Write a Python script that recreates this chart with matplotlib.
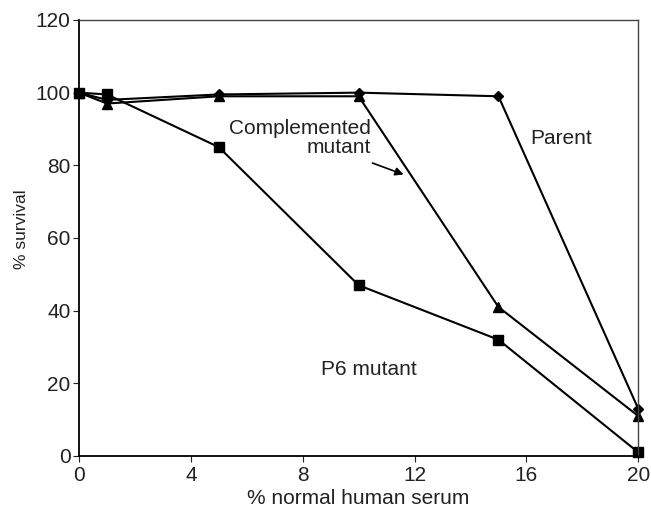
import matplotlib
matplotlib.use('Agg')
import matplotlib.pyplot as plt

plt.rcParams['font.family'] = ['Liberation Sans', 'DejaVu Sans']

# serum concentration (%)
serum = [0, 1, 5, 10, 15, 20]

# % survival for each strain
parent = [100, 98, 99.5, 100, 99, 13]
complemented = [100, 97, 99, 99, 41, 11]
p6_mutant = [100, 99.5, 85, 47, 32, 1]

fig = plt.figure(figsize=(6.51, 5.16), dpi=100)
ax = fig.add_axes([0.1214, 0.1163, 0.859, 0.845])

ax.plot(serum, parent, color='black', marker='D', markersize=5, linewidth=1.5, clip_on=False)
ax.plot(serum, complemented, color='black', marker='^', markersize=7, linewidth=1.5, clip_on=False)
ax.plot(serum, p6_mutant, color='black', marker='s', markersize=7, linewidth=1.5, clip_on=False)

ax.set_xlim(0, 20)
ax.set_ylim(0, 120)
ax.set_xticks([0, 4, 8, 12, 16, 20])
ax.set_yticks([0, 20, 40, 60, 80, 100, 120])
for s in ax.spines.values():
    s.set_color('#444444')
    s.set_linewidth(1.0)
ax.spines['left'].set_color('black')
ax.spines['bottom'].set_color('black')
ax.spines['left'].set_linewidth(1.3)
ax.spines['bottom'].set_linewidth(1.3)
ax.tick_params(labelsize=15, length=4, colors='#222222', pad=2)
ax.tick_params(axis='x', pad=3)

ax.set_xlabel("% normal human serum", fontsize=15, color='#222222', labelpad=3)
ax.set_ylabel("% survival", fontsize=12.5, color='#222222')
ax.yaxis.set_label_coords(-0.09, 0.52)

ax.text(10.45, 87.5, "Complemented\nmutant", fontsize=15, ha='right', va='center',
        multialignment='right', color='#222222', linespacing=1.0)
ax.annotate("", xy=(11.7, 77.2), xytext=(10.4, 80.9),
            arrowprops=dict(arrowstyle='-|>', color='black', lw=1.2, mutation_scale=12))
ax.text(17.25, 87.5, "Parent", fontsize=15, ha='center', va='center', color='#222222')
ax.text(10.37, 23.7, "P6 mutant", fontsize=15, ha='center', va='center', color='#222222')

fig.savefig('out.png', dpi=100)
